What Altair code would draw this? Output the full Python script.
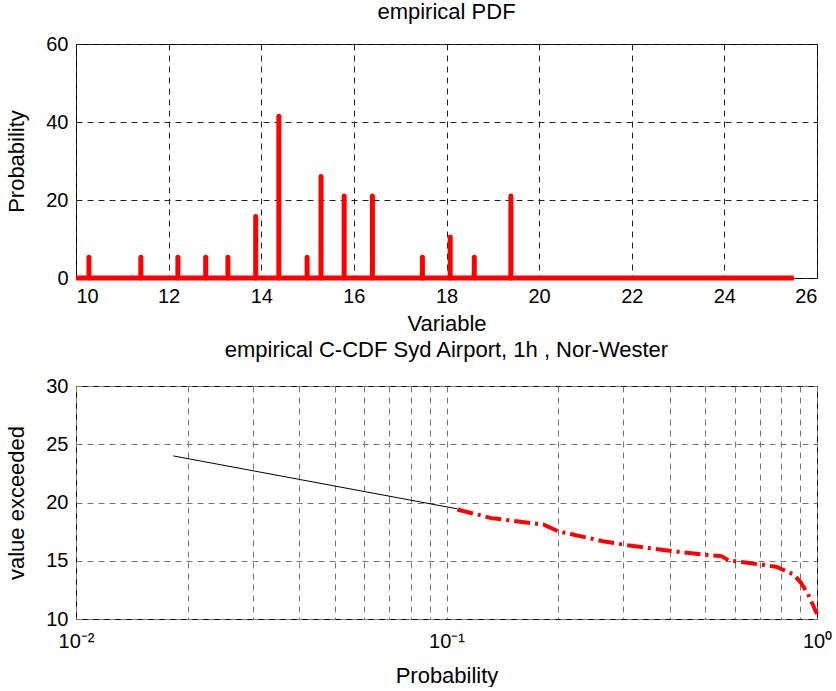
import altair as alt
import pandas as pd

# ---- data: empirical PDF (top panel) ----
pdf_x = [10.28, 11.40, 12.20, 12.80, 13.28, 13.88, 14.38, 14.99, 15.29, 15.79, 16.40, 17.48, 18.08, 18.60, 19.39]
pdf_y = [5.3, 5.3, 5.3, 5.3, 5.3, 15.8, 41.5, 5.3, 26.0, 21.0, 21.0, 5.3, 10.5, 5.3, 21.0]
base_x = [10.0, 25.5]

# ---- data: empirical C-CDF (bottom panel) ----
fit_p = [0.0183, 0.1067]
fit_v = [24.0, 19.46]
ccdf_p = [0.107, 0.132, 0.183, 0.200, 0.264, 0.308, 0.394, 0.489, 0.552, 0.578, 0.625, 0.775, 0.863, 0.904, 0.946, 1.0]
ccdf_v = [19.4, 18.66, 18.1, 17.53, 16.68, 16.33, 15.88, 15.54, 15.40, 15.03, 14.89, 14.49, 13.84, 13.13, 12.13, 10.43]

x_ticks_top = [10, 12, 14, 16, 18, 20, 22, 24, 26]
y_ticks_top = [0, 20, 40, 60]
x_ticks_bot = [0.01, 0.02, 0.03, 0.04, 0.05, 0.06, 0.07, 0.08, 0.09,
               0.1, 0.2, 0.3, 0.4, 0.5, 0.6, 0.7, 0.8, 0.9, 1.0]
y_ticks_bot = [10, 15, 20, 25, 30]

FONT = "Liberation Sans"
LFS = 20   # tick labels
TFS = 22   # titles
W, H1, H2 = 741, 234, 233

stems = pd.DataFrame({"x": pdf_x, "y": pdf_y, "y0": [0] * len(pdf_x)})
base = pd.DataFrame({"x": [base_x[0]], "x2": [base_x[1]], "y": [0]})
fit = pd.DataFrame({"p": fit_p, "v": fit_v})
ccdf = pd.DataFrame({"p": ccdf_p, "v": ccdf_v})

xs_top = alt.Scale(domain=[10, 26], nice=False, zero=False)
ys_top = alt.Scale(domain=[0, 60], nice=False)

top_x_axis = alt.Axis(values=x_ticks_top, title="Variable", grid=True,
                      gridDash=[6, 5], gridColor="#222222", gridOpacity=1,
                      labelPadding=8, titlePadding=7)
top_y_axis = alt.Axis(values=y_ticks_top, title="Probability", grid=True,
                      gridDash=[6, 5], gridColor="#222222", gridOpacity=1,
                      labelPadding=8, titlePadding=17)

stem_layer = alt.Chart(stems).mark_rule(color="#ff0000", strokeWidth=5, strokeCap="round").encode(
    x=alt.X("x:Q", scale=xs_top, axis=top_x_axis),
    y=alt.Y("y:Q", scale=ys_top, axis=top_y_axis),
    y2="y0:Q",
)
base_layer = alt.Chart(base).mark_rule(color="#ff0000", strokeWidth=5).encode(
    x=alt.X("x:Q", scale=xs_top),
    x2="x2:Q",
    y=alt.Y("y:Q", scale=ys_top),
)
top = alt.layer(base_layer, stem_layer).properties(
    width=W, height=H1,
    title=alt.TitleParams("empirical PDF", fontSize=TFS, font=FONT, fontWeight="normal", offset=10),
)

xs_bot = alt.Scale(type="log", domain=[0.01, 1], nice=False)
ys_bot = alt.Scale(domain=[10, 30], nice=False)

label_expr = ("datum.value < 0.011 ? '10\u207b\u00b2' : (abs(datum.value - 0.1) < 0.001 ? '10\u207b\u00b9' : "
              "(datum.value > 0.99 ? '10\u2070' : ''))")
bot_x_axis = alt.Axis(values=x_ticks_bot, title="Probability", grid=True, labelExpr=label_expr,
                      gridDash=[6, 5], gridColor="#777777", gridOpacity=1,
                      labelPadding=12, titlePadding=14, labelFlush=False)
bot_y_axis = alt.Axis(values=y_ticks_bot, title="value exceeded", grid=True,
                      gridDash=[6, 5], gridColor="#777777", gridOpacity=1,
                      labelPadding=8, titlePadding=17)

fit_layer = alt.Chart(fit).mark_line(color="black", strokeWidth=1).encode(
    x=alt.X("p:Q", scale=xs_bot, axis=bot_x_axis),
    y=alt.Y("v:Q", scale=ys_bot, axis=bot_y_axis),
)
ccdf_layer = alt.Chart(ccdf).mark_line(color="#ff0000", strokeWidth=4, strokeDash=[16, 5, 3, 5]).encode(
    x=alt.X("p:Q", scale=xs_bot),
    y=alt.Y("v:Q", scale=ys_bot),
)
bottom = alt.layer(fit_layer, ccdf_layer).properties(
    width=W, height=H2,
    title=alt.TitleParams("empirical C-CDF Syd Airport, 1h , Nor-Wester", fontSize=TFS, font=FONT,
                          fontWeight="normal", offset=14),
)

chart = alt.vconcat(top, bottom, spacing=108, bounds="flush").properties(
    padding={"left": 5, "top": 0, "right": 0, "bottom": 0},
).configure(
    font=FONT,
    background="white",
).configure_view(
    stroke="black", strokeWidth=1,
).configure_axis(
    labelFont=FONT, titleFont=FONT, labelFontSize=LFS, titleFontSize=TFS,
    labelColor="black", titleColor="black", titleFontWeight="normal",
    domain=False, ticks=False, gridWidth=1,
)

chart.save("out.html", embed_options={"renderer": "svg", "actions": False})
